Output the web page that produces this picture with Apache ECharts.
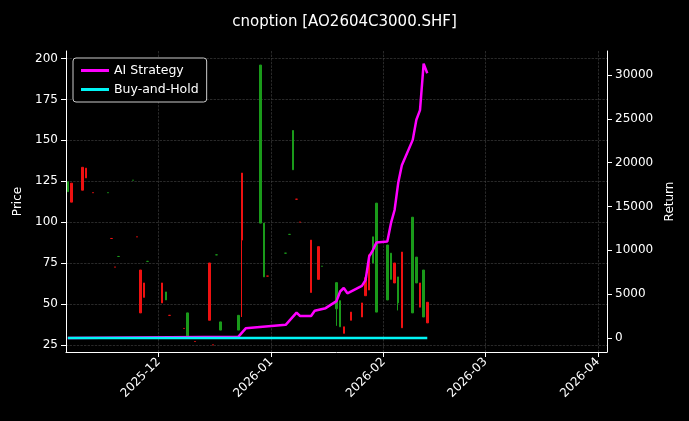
<!DOCTYPE html>
<html>
<head>
<meta charset="utf-8">
<title>cnoption</title>
<script src="https://cdn.jsdelivr.net/npm/echarts@6/dist/echarts.min.js"></script>
<style>html,body{margin:0;background:#000;}#main{width:689px;height:421px;}</style>
</head>
<body>
<div id="main"></div>
<script>
// candles: [date, open, close, low, high]
var candles = [
  ['2025-11-06', 118.6, 124.7, 118.6, 124.7],
  ['2025-11-07', 123.8, 112.2, 112.2, 123.8],
  ['2025-11-10', 133.5, 119.5, 119.5, 133.5],
  ['2025-11-11', 133, 127, 127, 133],
  ['2025-11-13', 118, 118, 118, 118],
  ['2025-11-17', 118, 118, 118, 118],
  ['2025-11-18', 90, 90, 90, 90],
  ['2025-11-19', 72.5, 72.5, 72.5, 72.5],
  ['2025-11-20', 79, 79, 79, 79],
  ['2025-11-24', 125.6, 125.6, 125.6, 125.6],
  ['2025-11-25', 91, 91, 91, 91],
  ['2025-11-26', 70.7, 44.5, 44.5, 70.7],
  ['2025-11-27', 62.8, 54, 54, 62.8],
  ['2025-11-28', 76, 76, 76, 76],
  ['2025-12-02', 62.8, 50.6, 50.6, 62.8],
  ['2025-12-03', 52.4, 57.3, 52.4, 57.3],
  ['2025-12-04', 43, 43, 43, 43],
  ['2025-12-08', 35, 35, 35, 35],
  ['2025-12-09', 30, 44.5, 30, 44.5],
  ['2025-12-11', 27, 27, 27, 27],
  ['2025-12-15', 75, 40, 40, 75],
  ['2025-12-16', 25, 25, 25, 25],
  ['2025-12-17', 80, 80, 80, 80],
  ['2025-12-18', 34, 39, 34, 39],
  ['2025-12-23', 34, 43, 34, 43],
  ['2025-12-24', 130, 89, 42, 130],
  ['2025-12-29', 99.4, 196, 99.4, 196],
  ['2025-12-30', 66.5, 99.4, 66.5, 99.4],
  ['2025-12-31', 67, 67, 67, 67],
  ['2026-01-05', 81, 81, 81, 81],
  ['2026-01-06', 92.5, 92.5, 92.5, 92.5],
  ['2026-01-07', 132, 156, 132, 156],
  ['2026-01-08', 114, 114, 114, 114],
  ['2026-01-09', 100, 100, 100, 100],
  ['2026-01-12', 89, 57, 57, 89],
  ['2026-01-14', 85, 65, 65, 85],
  ['2026-01-15', 73, 73, 73, 73],
  ['2026-01-19', 47, 63, 36.6, 63],
  ['2026-01-20', 36, 52, 36, 52],
  ['2026-01-21', 36, 32, 32, 36],
  ['2026-01-23', 45, 40, 40, 45],
  ['2026-01-26', 50.6, 42, 42, 50.6],
  ['2026-01-27', 66, 55, 55, 66],
  ['2026-01-28', 80, 58.5, 58.5, 80],
  ['2026-01-29', 75, 91, 75, 91],
  ['2026-01-30', 45, 111.6, 45, 111.6],
  ['2026-02-02', 52.4, 86, 52.4, 86],
  ['2026-02-03', 65, 81, 65, 81],
  ['2026-02-04', 75, 62.8, 62.8, 75],
  ['2026-02-05', 50.6, 66.5, 46, 66.5],
  ['2026-02-06', 81.7, 35.4, 35.4, 81.7],
  ['2026-02-09', 44.5, 103, 44.5, 103],
  ['2026-02-10', 62.8, 78.6, 62.8, 78.6],
  ['2026-02-11', 62.8, 48, 48, 62.8],
  ['2026-02-12', 42, 70.7, 42, 70.7],
  ['2026-02-13', 51, 38.4, 38.4, 51]
];
var strategyDates = ['2025-11-06', '2025-12-23', '2025-12-25', '2026-01-05', '2026-01-08', '2026-01-09',
  '2026-01-12', '2026-01-13', '2026-01-16', '2026-01-19', '2026-01-20', '2026-01-21', '2026-01-22',
  '2026-01-26', '2026-01-27', '2026-01-28', '2026-01-29', '2026-01-30', '2026-02-02', '2026-02-03',
  '2026-02-04', '2026-02-05', '2026-02-06', '2026-02-09', '2026-02-10', '2026-02-11', '2026-02-12'];
var strategyReturn = [0, 150, 1100, 1500, 2900, 2500, 2500, 3100, 3400, 4200, 5300, 5700, 5100,
  5950, 6600, 9300, 10000, 10900, 11000, 13100, 14600, 17700, 19700, 22600, 24900, 26000, 31300];
var strategyEnd = ['2026-02-13', 30200];
var holdDates = ['2025-11-06', '2026-02-13'];
var holdReturn = [0, 0];

var stratData = strategyDates.map(function (d, i) { return [d, strategyReturn[i]]; });
stratData.push(strategyEnd);
var holdData = holdDates.map(function (d, i) { return [d, holdReturn[i]]; });
var returnTicks = [0, 5000, 10000, 15000, 20000, 25000, 30000];
var priceTicks = [25, 50, 75, 100, 125, 150, 175, 200];

var gridLine = { show: true, lineStyle: { color: '#444', type: 'dashed', width: 0.6 } };
var chart = echarts.init(document.getElementById('main'));
chart.setOption({
  backgroundColor: '#000',
  animation: false,
  title: {
    text: 'cnoption [AO2604C3000.SHF]', left: 'center', top: 10,
    textStyle: { color: '#fff', fontSize: 15, fontWeight: 'normal', fontFamily: 'DejaVu Sans' }
  },
  legend: {
    left: 73, top: 58, orient: 'vertical', itemGap: 6,
    backgroundColor: '#000', borderColor: '#ccc', borderWidth: 1, borderRadius: 3, padding: [6, 8],
    itemWidth: 28, itemHeight: 3, icon: 'rect',
    textStyle: { color: '#fff', fontSize: 12.5, fontFamily: 'DejaVu Sans' },
    data: ['AI Strategy', 'Buy-and-Hold']
  },
  grid: { left: 66, right: 82, top: 51, bottom: 69 },
  xAxis: {
    type: 'time', splitNumber: 4,
    min: +new Date('2025-11-05T12:00:00'), max: +new Date('2026-04-03T12:00:00'),
    axisLine: { show: true, onZero: false, lineStyle: { color: '#fff' } },
    axisTick: { show: true, lineStyle: { color: '#fff' } },
    axisLabel: {
      rotate: 45, color: '#fff', fontSize: 12, fontFamily: 'DejaVu Sans', hideOverlap: false,
      formatter: function (v) {
        var d = new Date(v);
        return d.getDate() === 1 ? d.getFullYear() + '-' + String(d.getMonth() + 1).padStart(2, '0') : '';
      }
    },
    splitLine: gridLine
  },
  yAxis: [{
    type: 'value', min: 20.6, max: 204.6,
    name: 'Price', nameLocation: 'middle', nameGap: 40,
    nameTextStyle: { color: '#fff', fontSize: 12, fontFamily: 'DejaVu Sans' },
    axisLine: { show: true, lineStyle: { color: '#fff' } },
    axisTick: { show: true, customValues: priceTicks },
    axisLabel: { color: '#fff', fontSize: 12, fontFamily: 'DejaVu Sans', customValues: priceTicks },
    splitLine: gridLine
  }, {
    type: 'value', min: -1600, max: 32740,
    name: 'Return', nameLocation: 'middle', nameGap: 50,
    nameTextStyle: { color: '#fff', fontSize: 12, fontFamily: 'DejaVu Sans' },
    axisLine: { show: true, lineStyle: { color: '#fff' } },
    axisTick: { show: true, customValues: returnTicks },
    axisLabel: {
      color: '#fff', fontSize: 12, fontFamily: 'DejaVu Sans', customValues: returnTicks,
      formatter: function (v) { return String(v); }
    },
    splitLine: { show: false }
  }],
  series: [{
    type: 'candlestick', yAxisIndex: 0, barWidth: 2, large: false,
    itemStyle: { color: '#1a9a1a', color0: '#ee1111', borderColor: '#1a9a1a', borderColor0: '#ee1111', borderWidth: 1 },
    data: candles
  }, {
    name: 'AI Strategy', type: 'line', yAxisIndex: 1, showSymbol: false,
    lineStyle: { color: '#ff00ff', width: 2.5 }, itemStyle: { color: '#ff00ff' },
    data: stratData, z: 5
  }, {
    name: 'Buy-and-Hold', type: 'line', yAxisIndex: 1, showSymbol: false,
    lineStyle: { color: '#00f5f5', width: 2.5 }, itemStyle: { color: '#00f5f5' },
    data: holdData, z: 6
  }]
});
</script>
</body>
</html>
